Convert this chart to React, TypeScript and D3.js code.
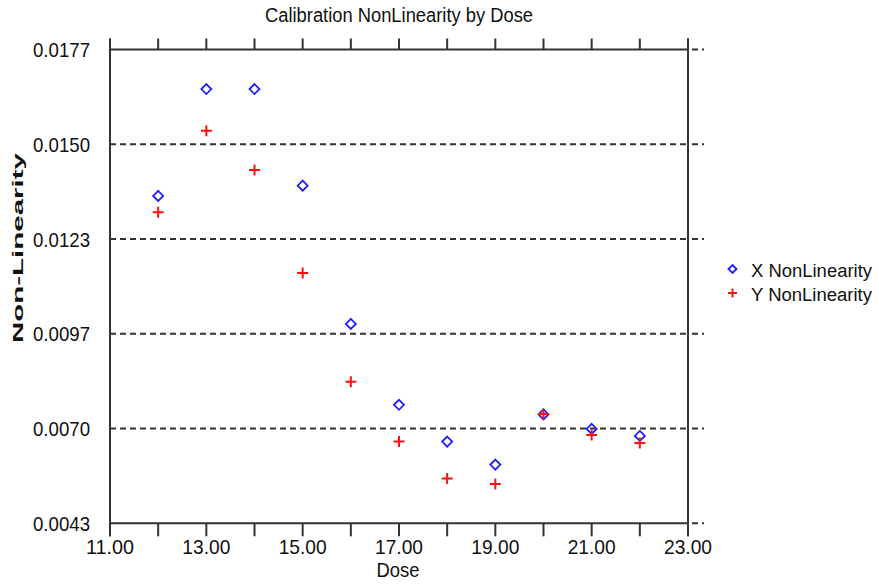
import React from "react";
import * as d3 from "d3";

const title = "Calibration NonLinearity by Dose";
const xAxisTitle = "Dose";
const yAxisTitle = "Non-Linearity";
const seriesNames = ["X NonLinearity", "Y NonLinearity"];

const dose = [12, 13, 14, 15, 16, 17, 18, 19, 20, 21, 22];
const xNonLinearity = [0.01356, 0.01658, 0.01658, 0.01385, 0.00994, 0.00765, 0.00661, 0.00596, 0.00738, 0.00697, 0.00677];
const yNonLinearity = [0.0131, 0.0154, 0.01429, 0.01138, 0.0083, 0.00661, 0.00557, 0.00541, 0.00739, 0.0068, 0.00657];

const xDomain = [11, 23];
const yDomain = [0.0043, 0.0177];
const xTicks = [11, 12, 13, 14, 15, 16, 17, 18, 19, 20, 21, 22, 23];
const xTickLabels = [11, 13, 15, 17, 19, 21, 23];
const yTicks = [0.0043, 0.00698, 0.00966, 0.01234, 0.01502, 0.0177];

const FONT = "'Liberation Sans', Arial, sans-serif";
const AXIS = "#333";

const diamond = (cx: number, cy: number, r: number) =>
  `M${cx},${cy - r}L${cx + r},${cy}L${cx},${cy + r}L${cx - r},${cy}Z`;
const plus = (cx: number, cy: number, r: number) =>
  `M${cx - r},${cy}L${cx + r},${cy}M${cx},${cy - r}L${cx},${cy + r}`;

export default function App() {
  const left = 110, right = 688, top = 49.5, bottom = 523.3;
  const x = d3.scaleLinear().domain(xDomain).range([left, right]);
  const y = d3.scaleLinear().domain(yDomain).range([bottom, top]);

  return (
    <svg
      width={879}
      height={584}
      style={{ position: "fixed", left: 0, top: 0, background: "#fff" }}
      fontFamily={FONT}
    >
      <rect width={879} height={584} fill="#fff" />
      {/* title */}
      <text x={399} y={22} fontSize={20} textAnchor="middle" fill="#111" textLength={268} lengthAdjust="spacingAndGlyphs">
        {title}
      </text>

      {/* horizontal grid + right extensions */}
      {yTicks.map((t, i) => {
        const yy = y(t);
        const interior = i > 0 && i < yTicks.length - 1;
        return (
          <g key={"g" + i}>
            {interior && (
              <line x1={left} x2={right} y1={yy} y2={yy} stroke={AXIS} strokeWidth={2} strokeDasharray="6 4" />
            )}
            <line x1={right + 2} x2={right + 16} y1={yy} y2={yy} stroke={AXIS} strokeWidth={2} strokeDasharray="6 4" strokeDashoffset={-2} />
            <text x={90} y={yy + 7.5} fontSize={21} textAnchor="end" fill="#111" textLength={57} lengthAdjust="spacingAndGlyphs">
              {t.toFixed(4)}
            </text>
          </g>
        );
      })}

      {/* frame */}
      <line x1={left} x2={right} y1={top} y2={top} stroke={AXIS} strokeWidth={2} />
      <line x1={left} x2={right} y1={bottom} y2={bottom} stroke={AXIS} strokeWidth={2} />
      <line x1={left} x2={left} y1={top - 11} y2={bottom + 13} stroke={AXIS} strokeWidth={2} />
      <line x1={right} x2={right} y1={top - 11} y2={bottom + 13} stroke={AXIS} strokeWidth={2} />

      {/* x ticks */}
      {xTicks.map((t) => (
        <g key={"xt" + t}>
          <line x1={x(t)} x2={x(t)} y1={bottom} y2={bottom + 13} stroke={AXIS} strokeWidth={2} />
          <line x1={x(t)} x2={x(t)} y1={top} y2={top - 11} stroke={AXIS} strokeWidth={2} />
        </g>
      ))}
      {xTickLabels.map((t) => (
        <text key={"xl" + t} x={x(t)} y={554} fontSize={21} textAnchor="middle" fill="#111" textLength={48} lengthAdjust="spacingAndGlyphs">
          {t.toFixed(2)}
        </text>
      ))}

      {/* axis titles */}
      <text x={398} y={577} fontSize={21} textAnchor="middle" fill="#111" textLength={43} lengthAdjust="spacingAndGlyphs">
        {xAxisTitle}
      </text>
      <text
        transform="translate(23,248) rotate(-90)"
        fontSize={15}
        fontWeight="bold"
        textAnchor="middle"
        fill="#111"
        textLength={190}
        lengthAdjust="spacingAndGlyphs"
      >
        {yAxisTitle}
      </text>

      {/* data */}
      {dose.map((d, i) => (
        <path key={"xp" + i} d={diamond(x(d), y(xNonLinearity[i]), 5)} fill="none" stroke="#1f1fff" strokeWidth={1.8} />
      ))}
      {dose.map((d, i) => (
        <path key={"yp" + i} d={plus(x(d), y(yNonLinearity[i]), 5.5)} fill="none" stroke="#ff1010" strokeWidth={2} />
      ))}

      {/* legend */}
      <path d={diamond(732.5, 269, 4)} fill="none" stroke="#1f1fff" strokeWidth={1.8} />
      <text x={751} y={277} fontSize={18} fill="#111" textLength={121} lengthAdjust="spacingAndGlyphs">
        {seriesNames[0]}
      </text>
      <path d={plus(732.5, 293, 4.5)} fill="none" stroke="#ff1010" strokeWidth={2} />
      <text x={751} y={301} fontSize={18} fill="#111" textLength={121} lengthAdjust="spacingAndGlyphs">
        {seriesNames[1]}
      </text>
    </svg>
  );
}
